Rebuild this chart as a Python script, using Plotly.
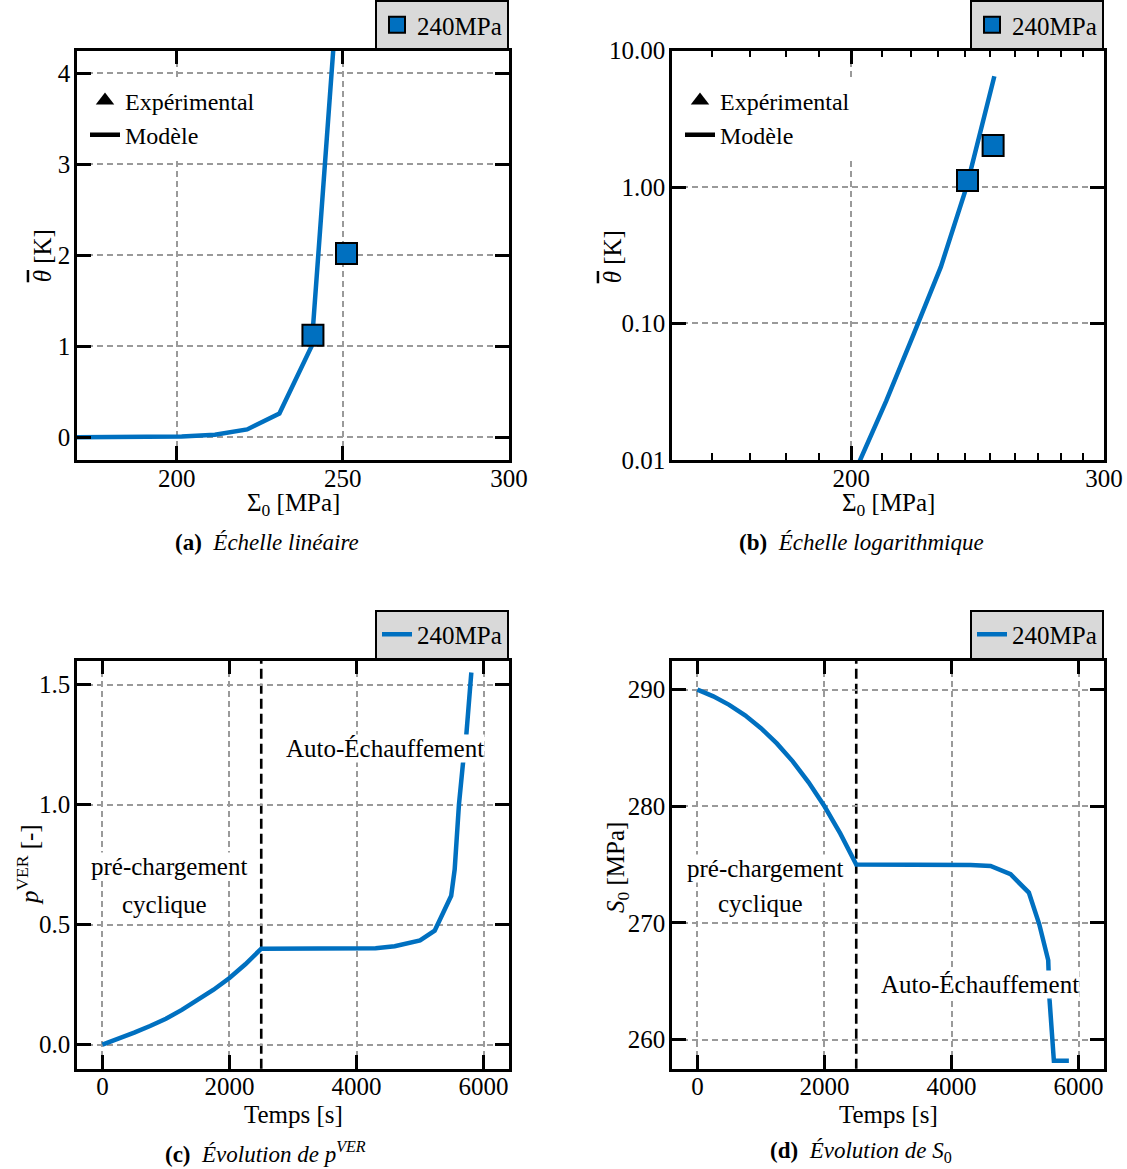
import math
import plotly.graph_objects as go

# ---------------- data ----------------
# (a)/(b) : self-heating vs stress amplitude
sigma_model = [170.0, 181.6, 191.5, 201.5, 211.5, 221.2, 230.9, 240.6, 251.6]
theta_model = [0.0002, 0.0008, 0.0025, 0.0085, 0.027, 0.085, 0.26, 1.0, 6.5]
sigma_exp = [241.0, 251.1]
theta_exp = [1.12, 2.02]

# (c) : p^VER vs time
time_p = [0, 250, 500, 750, 1000, 1250, 1500, 1750, 2000, 2250, 2500, 3000, 3500,
          4000, 4300, 4600, 5000, 5230, 5490, 5545, 5612, 5675, 5728, 5807]
p_ver = [0.0, 0.024, 0.05, 0.078, 0.108, 0.145, 0.185, 0.229, 0.278, 0.335, 0.40,
         0.40, 0.40, 0.40, 0.402, 0.41, 0.434, 0.475, 0.62, 0.73, 1.0, 1.17, 1.29, 1.55]

# (d) : S0 vs time
time_s = [0, 250, 500, 750, 1000, 1250, 1500, 1750, 2000, 2250, 2500, 3000, 3500,
          4000, 4300, 4614, 4929, 5217, 5380, 5522, 5543, 5611, 5847]
s0 = [290.0, 289.43, 288.70, 287.80, 286.70, 285.39, 283.85, 282.06, 280.0, 277.65,
      275.0, 275.0, 275.0, 275.0, 274.97, 274.88, 274.17, 272.6, 269.9, 266.8, 263.4,
      258.17, 258.17]

phase_change_time = 2500
series_name = "240MPa"

# tick values / labels
lin_x_ticks = [200, 250, 300]
lin_y_ticks = [0, 1, 2, 3, 4]
log_x_ticks = [200, 300]
log_x_minor = [160, 170, 180, 190, 210, 220, 230, 240, 250, 260, 270, 280, 290]
log_y_ticks = [0.01, 0.1, 1, 10]
log_y_labels = ["0.01", "0.10", "1.00", "10.00"]
time_ticks = [0, 2000, 4000, 6000]
p_ticks = [0.0, 0.5, 1.0, 1.5]
s0_ticks = [260, 270, 280, 290]

# ---------------- style ----------------
W, H = 1127, 1169
BLUE = "#0070c0"
FONT = "Liberation Serif"
FS = 25


def px(x):
    return x / W


def py(y):
    return 1 - y / H


axis_common = dict(
    showline=True, linecolor="black", linewidth=2.5, mirror="ticks",
    ticks="inside", ticklen=14, tickwidth=2.5, tickcolor="black",
    showgrid=True, gridcolor="#9a9a9a", gridwidth=1.5, griddash="6px,4px",
    zeroline=False, tickfont=dict(family=FONT, size=FS, color="black"),
    automargin=False,
)
xaxis_common = dict(axis_common, ticklabelstandoff=-6)
yaxis_common = dict(axis_common, ticklabelstandoff=-1)

fig = go.Figure()

# ----- (a) linear -----
fig.add_trace(go.Scatter(x=sigma_model, y=theta_model, mode="lines",
                         line=dict(color=BLUE, width=4.5), showlegend=False,
                         xaxis="x", yaxis="y"))
fig.add_trace(go.Scatter(x=sigma_exp, y=theta_exp, mode="markers", name=series_name,
                         marker=dict(symbol="square", size=21, color=BLUE,
                                     line=dict(color="black", width=2)),
                         xaxis="x", yaxis="y", legend="legend"))
fig.add_trace(go.Scatter(x=[None], y=[None], mode="markers", name="Expérimental",
                         marker=dict(symbol="triangle-up", size=16, color="black"),
                         xaxis="x", yaxis="y", legend="legend2"))
fig.add_trace(go.Scatter(x=[None], y=[None], mode="lines", name="Modèle",
                         line=dict(color="black", width=4.5),
                         xaxis="x", yaxis="y", legend="legend2"))

# ----- (b) log -----
fig.add_trace(go.Scatter(x=sigma_model, y=theta_model, mode="lines",
                         line=dict(color=BLUE, width=4.5), showlegend=False,
                         xaxis="x2", yaxis="y2"))
fig.add_trace(go.Scatter(x=sigma_exp, y=theta_exp, mode="markers", name=series_name,
                         marker=dict(symbol="square", size=21, color=BLUE,
                                     line=dict(color="black", width=2)),
                         xaxis="x2", yaxis="y2", legend="legend3"))
fig.add_trace(go.Scatter(x=[None], y=[None], mode="markers", name="Expérimental",
                         marker=dict(symbol="triangle-up", size=16, color="black"),
                         xaxis="x2", yaxis="y2", legend="legend4"))
fig.add_trace(go.Scatter(x=[None], y=[None], mode="lines", name="Modèle",
                         line=dict(color="black", width=4.5),
                         xaxis="x2", yaxis="y2", legend="legend4"))

# ----- (c) p^VER -----
fig.add_trace(go.Scatter(x=time_p, y=p_ver, mode="lines", name=series_name,
                         line=dict(color=BLUE, width=4.5),
                         xaxis="x3", yaxis="y3", legend="legend5"))

# ----- (d) S0 -----
fig.add_trace(go.Scatter(x=time_s, y=s0, mode="lines", name=series_name,
                         line=dict(color=BLUE, width=4.5),
                         xaxis="x4", yaxis="y4", legend="legend6"))

# ---------------- axes ----------------
dom_left = [px(77), px(509)]
dom_right = [px(672), px(1104)]
dom_top = [py(455), py(43)]
dom_bot = [py(1068), py(657)]

fig.update_layout(
    xaxis=dict(xaxis_common, domain=dom_left, anchor="y", range=[170, 300],
               tickmode="array", tickvals=lin_x_ticks),
    yaxis=dict(yaxis_common, domain=dom_top, anchor="x", range=[-0.25, 4.25],
               tickmode="array", tickvals=lin_y_ticks),
    xaxis2=dict(xaxis_common, domain=dom_right, anchor="y2", type="log",
                range=[math.log10(150), math.log10(300)],
                tickmode="array", tickvals=log_x_ticks,
                minor=dict(tickmode="array", tickvals=log_x_minor, ticks="inside",
                           ticklen=7, tickwidth=2, tickcolor="black", showgrid=False)),
    yaxis2=dict(yaxis_common, domain=dom_top, anchor="x2", type="log",
                range=[-2, 1], tickmode="array", tickvals=log_y_ticks,
                ticktext=log_y_labels),
    xaxis3=dict(xaxis_common, domain=dom_left, anchor="y3", range=[-400, 6400],
                tickmode="array", tickvals=time_ticks),
    yaxis3=dict(yaxis_common, domain=dom_bot, anchor="x3", range=[-0.1, 1.6],
                tickmode="array", tickvals=p_ticks, tickformat=".1f"),
    xaxis4=dict(xaxis_common, domain=dom_right, anchor="y4", range=[-400, 6400],
                tickmode="array", tickvals=time_ticks),
    yaxis4=dict(yaxis_common, domain=dom_bot, anchor="x4", range=[257.5, 292.5],
                tickmode="array", tickvals=s0_ticks),
)

# phase change vertical dashed lines
for xr, yr in (("x3", "y3 domain"), ("x4", "y4 domain")):
    fig.add_shape(type="line", xref=xr, yref=yr, x0=phase_change_time,
                  x1=phase_change_time, y0=0, y1=1, layer="below",
                  line=dict(color="black", width=2.6, dash="10px,5px"))

# ---------------- legends ----------------
leg_box = dict(bgcolor="#d9d9d9", bordercolor="black", borderwidth=2,
               font=dict(family=FONT, size=FS, color="black"),
               xanchor="right", yanchor="bottom", orientation="v")
leg_plain = dict(bgcolor="white", borderwidth=0,
                 font=dict(family=FONT, size=24, color="black"),
                 xanchor="left", yanchor="top", orientation="v", tracegroupgap=0)

fig.update_layout(
    legend=dict(leg_box, x=px(509), y=py(42)),
    legend2=dict(leg_plain, x=px(85), y=py(71)),
    legend3=dict(leg_box, x=px(1104), y=py(42)),
    legend4=dict(leg_plain, x=px(680), y=py(71)),
    legend5=dict(leg_box, x=px(509), y=py(656)),
    legend6=dict(leg_box, x=px(1104), y=py(656)),
)

# ---------------- text ----------------
ann = []


def add_text(text, x, y, xref="paper", yref="paper", size=FS, angle=0, bg=None):
    d = dict(text=text, x=x, y=y, xref=xref, yref=yref, showarrow=False,
             font=dict(family=FONT, size=size, color="black"),
             xanchor="center", yanchor="middle", textangle=angle, borderpad=0)
    if bg:
        d["bgcolor"] = bg
    ann.append(d)


theta_bar = "<span style=\"text-decoration:overline\"><i>θ</i></span> [K]"

# axis titles
add_text("Σ<sub>0</sub> [MPa]", px(293), py(500))
add_text("Σ<sub>0</sub> [MPa]", px(888), py(500))
add_text("Temps [s]", px(293), py(1114))
add_text("Temps [s]", px(888), py(1114))
add_text(theta_bar, px(42), py(250), angle=-90)
add_text(theta_bar, px(612), py(250), angle=-90)
add_text("<i>p</i><sup>VER</sup> [-]", px(28), py(862), angle=-90)
add_text("<i>S</i><sub>0</sub> [MPa]", px(617), py(866), angle=-90)

# in-plot labels
add_text("pré-chargement", 1044, 0.74, "x3", "y3", bg="white")
add_text("cyclique", 982, 0.585, "x3", "y3", bg="white")
add_text("Auto-Échauffement", 4445, 1.235, "x3", "y3", bg="white")
add_text("pré-chargement", 1063, 274.7, "x4", "y4", bg="white")
add_text("cyclique", 992, 271.7, "x4", "y4", bg="white")
add_text("Auto-Échauffement", 4449, 264.7, "x4", "y4", bg="white")

# captions
CS = 23
add_text("<b>(a)</b>  <i>Échelle linéaire</i>", px(267), py(538), size=CS)
add_text("<b>(b)</b>  <i>Échelle logarithmique</i>", px(861), py(538), size=CS)
add_text("<b>(c)</b>  <i>Évolution de p</i><sup><i>VER</i></sup>", px(265), py(1152), size=CS)
add_text("<b>(d)</b>  <i>Évolution de S</i><sub>0</sub>", px(861), py(1152), size=CS)

fig.update_layout(
    annotations=ann,
    width=W, height=H,
    margin=dict(l=0, r=0, t=0, b=0, pad=0),
    paper_bgcolor="white", plot_bgcolor="white",
    font=dict(family=FONT, size=FS, color="black"),
)

fig.write_html("out.html", config={"displayModeBar": False},
               post_script="document.body.style.margin='0';")
